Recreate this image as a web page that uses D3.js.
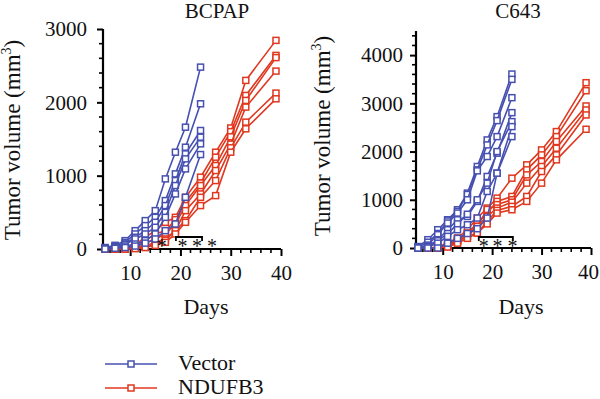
<!DOCTYPE html>
<html>
<head>
<meta charset="utf-8">
<script src="https://cdn.jsdelivr.net/npm/d3@7"></script>
<style>
  html, body { margin: 0; padding: 0; background: #fff; }
  svg { display: block; font-family: "Liberation Serif", "DejaVu Serif", serif; }
</style>
</head>
<body>
<svg id="chart" width="600" height="399"></svg>
<script>
// ---- Data ----
const seriesNames = ["Vector", "NDUFB3"];
const vectorDays = [5, 7, 9, 11, 13, 15, 17, 19, 21, 24];
const nd3Days = [5, 7, 9, 11, 13, 15, 17, 19, 21, 24, 27, 30, 33, 39];

// BCPAP
const bcpapVector = [
  [20, 50, 114, 250, 387, 523, 956, 1320, 1661, 2480],
  [15, 40, 90, 205, 319, 432, 660, 1024, 1388, 1980],
  [10, 30, 70, 160, 250, 364, 592, 933, 1297, 1616],
  [10, 25, 60, 137, 205, 296, 500, 865, 1229, 1525],
  [5, 20, 40, 68, 114, 205, 432, 751, 1092, 1434],
  [0, 10, 20, 40, 80, 137, 250, 341, 705, 1288]
];
const bcpapNDUFB3 = [
  [0, 5, 20, 60, 160, 250, 364, 432, 705, 979, 1320, 1650, 2299, 2845],
  [0, 0, 10, 40, 114, 205, 250, 400, 640, 900, 1252, 1600, 2094, 2640],
  [0, 0, 10, 30, 80, 137, 205, 341, 592, 865, 1138, 1530, 2026, 2610],
  [0, 0, 5, 20, 45, 90, 137, 250, 523, 751, 1070, 1430, 1935, 2426],
  [0, 0, 0, 10, 23, 68, 120, 250, 387, 705, 933, 1380, 1730, 2126],
  [0, 0, 0, 5, 20, 50, 91, 205, 364, 592, 728, 1320, 1639, 2048]
];

// C643
const c643Vector = [
  [30, 172, 379, 586, 793, 1138, 1690, 2241, 2724, 3607],
  [20, 120, 300, 560, 760, 1110, 1621, 2138, 2642, 3497],
  [10, 60, 276, 517, 724, 1000, 1600, 1897, 2310, 3117],
  [0, 34, 172, 379, 586, 655, 966, 1483, 1966, 2807],
  [0, 30, 150, 300, 500, 700, 1000, 1345, 2000, 2621],
  [0, 20, 100, 241, 379, 483, 621, 1172, 1552, 2517],
  [0, 0, 0, 100, 200, 300, 400, 621, 1552, 2310]
];
const c643NDUFB3 = [
  [0, 0, 20, 103, 207, 379, 621, 828, 1034, 1448, 1724, 2034, 2414, 3428],
  [0, 0, 10, 80, 180, 310, 517, 724, 966, 1069, 1621, 1931, 2310, 3262],
  [0, 0, 0, 60, 160, 300, 448, 800, 900, 1000, 1517, 1793, 2207, 2945],
  [0, 0, 0, 34, 138, 241, 448, 655, 828, 950, 1345, 1690, 2069, 2862],
  [0, 0, 0, 34, 138, 241, 310, 552, 780, 862, 1069, 1586, 1931, 2759],
  [0, 0, 0, 20, 100, 200, 310, 500, 724, 793, 966, 1345, 1828, 2462]
];

const xTicks = [10, 20, 30, 40];
const bcpapYTicks = [0, 1000, 2000, 3000];
const c643YTicks = [0, 1000, 2000, 3000, 4000];
const panelTitles = ["BCPAP", "C643"];
const xLabel = "Days";
const sigLabels = ["*", "***"];

const colors = { Vector: "#4650b0", NDUFB3: "#e0381f" };

const svg = d3.select("#chart");
const FONT = 21;

function drawPanel(opts) {
  const g = svg.append("g");
  const x = d3.scaleLinear().domain([4.6, 40]).range([opts.x0, opts.x1]);
  const y = d3.scaleLinear().domain([0, opts.yMax]).range([opts.yBottom, opts.yTop]);

  const yMinor = d3.range(0, opts.yMax + 1, 200);
  const xMinor = d3.range(6, 41, 2);

  // y axis
  const ya = g.append("g").attr("transform", `translate(${opts.x0},0)`)
    .call(d3.axisLeft(y).tickValues(opts.yTicks).tickSize(6).tickSizeOuter(0).tickPadding(opts.yPad).tickFormat(d3.format("d")));
  ya.select(".domain").attr("stroke-width", 2.2).attr("d", `M0,${opts.yBottom}V${opts.yTop}`);
  ya.selectAll(".tick line").attr("stroke-width", 2);
  ya.selectAll(".tick text").attr("font-size", FONT).attr("font-family", "Liberation Serif").attr("fill", "#111");
  g.append("g").selectAll("line").data(yMinor.filter(v => !opts.yTicks.includes(v)))
    .join("line")
    .attr("x1", opts.x0 - 4).attr("x2", opts.x0)
    .attr("y1", d => y(d)).attr("y2", d => y(d))
    .attr("stroke", "#000").attr("stroke-width", 1.6);

  // x axis
  const xa = g.append("g").attr("transform", `translate(0,${opts.yBottom})`)
    .call(d3.axisBottom(x).tickValues(xTicks).tickSize(7).tickSizeOuter(0).tickPadding(9));
  xa.select(".domain").attr("stroke-width", 2.2).attr("d", `M${opts.x0},0H${opts.x1}`);
  xa.selectAll(".tick line").attr("stroke-width", 2);
  xa.selectAll(".tick text").attr("font-size", FONT).attr("font-family", "Liberation Serif").attr("fill", "#111")
    .attr("dx", d => (d === 40 ? opts.lastDx : 0));
  g.append("g").selectAll("line").data(xMinor.filter(v => !xTicks.includes(v)))
    .join("line")
    .attr("x1", d => x(d)).attr("x2", d => x(d))
    .attr("y1", opts.yBottom).attr("y2", opts.yBottom + 4)
    .attr("stroke", "#000").attr("stroke-width", 1.6);

  // lines
  const line = d3.line().x(d => x(d[0])).y(d => y(d[1]));
  const drawGroup = (data, days, color) => {
    data.forEach(vals => {
      const pts = days.map((d, i) => [d, vals[i]]);
      g.append("path").datum(pts).attr("d", line)
        .attr("fill", "none").attr("stroke", color).attr("stroke-width", 1.6);
      g.append("g").selectAll("rect").data(pts).join("rect")
        .attr("x", d => x(d[0]) - 3).attr("y", d => y(d[1]) - 3)
        .attr("width", 6).attr("height", 6)
        .attr("fill", "#fff").attr("stroke", color).attr("stroke-width", 1.5);
    });
  };
  drawGroup(opts.nd, nd3Days, colors.NDUFB3);
  drawGroup(opts.vec, vectorDays, colors.Vector);

  // title
  g.append("text").attr("x", opts.titleX).attr("y", 18).attr("text-anchor", "middle")
    .attr("font-size", FONT).attr("fill", "#111").text(opts.title);

  // y label
  g.append("text")
    .attr("transform", `translate(${opts.ylabX},${opts.ylabY}) rotate(-90)`)
    .attr("text-anchor", "middle").attr("font-size", 23).attr("fill", "#111")
    .call(t => {
      t.append("tspan").text("Tumor volume (mm");
      t.append("tspan").attr("font-size", 14).attr("dy", -9).text("3");
      t.append("tspan").attr("dy", 9).text(")");
    });

  // x label
  g.append("text").attr("x", opts.daysX).attr("y", 314).attr("text-anchor", "middle")
    .attr("font-size", 22).attr("fill", "#111").text(xLabel);

  // significance
  const bY = 237;
  g.append("path")
    .attr("d", `M${x(opts.brA)},${bY + 4}V${bY}H${x(opts.brB)}V${bY + 4}`)
    .attr("fill", "none").attr("stroke", "#000").attr("stroke-width", 1.8);
  if (opts.single) {
    g.append("text").attr("x", x(opts.single)).attr("y", 253).attr("text-anchor", "middle")
      .attr("font-size", 20).attr("fill", "#111").text(sigLabels[0]);
  }
  opts.triple.forEach(d => {
    g.append("text").attr("x", x(d)).attr("y", 253).attr("text-anchor", "middle")
      .attr("font-size", 20).attr("fill", "#111").text(sigLabels[1][0]);
  });
}

drawPanel({
  x0: 103, x1: 281, yTop: 29, yBottom: 249, yMax: 3000, yTicks: bcpapYTicks, yPad: 10,
  vec: bcpapVector, nd: bcpapNDUFB3, title: panelTitles[0], titleX: 217, daysX: 206, lastDx: 0,
  ylabX: 20, ylabY: 140, brA: 19.1, brB: 24.3, single: 16.3, triple: [20.4, 23.3, 26.3]
});
drawPanel({
  x0: 416, x1: 591, yTop: 31, yBottom: 248, yMax: 4500, yTicks: c643YTicks, yPad: 7,
  vec: c643Vector, nd: c643NDUFB3, title: panelTitles[1], titleX: 518, daysX: 521, lastDx: -3,
  ylabX: 330, ylabY: 136, brA: 17.3, brB: 24.2, single: null, triple: [18.3, 21.1, 24.1]
});

// legend
const leg = svg.append("g");
seriesNames.forEach((name, i) => {
  const yy = 364 + i * 24;
  leg.append("line").attr("x1", 105).attr("x2", 157).attr("y1", yy).attr("y2", yy)
    .attr("stroke", colors[name]).attr("stroke-width", 1.6);
  leg.append("rect").attr("x", 128).attr("y", yy - 3).attr("width", 6).attr("height", 6)
    .attr("fill", "#fff").attr("stroke", colors[name]).attr("stroke-width", 1.5);
  leg.append("text").attr("x", 178).attr("y", yy + 6).attr("font-size", 22).attr("fill", "#111").text(name);
});
</script>
</body>
</html>
